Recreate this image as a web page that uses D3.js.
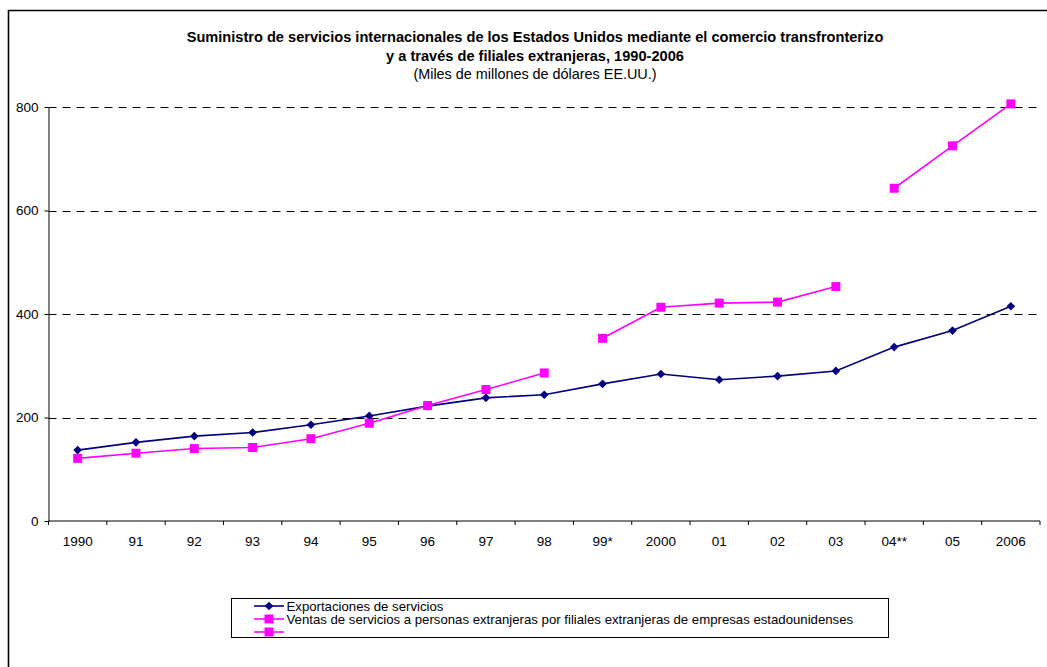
<!DOCTYPE html>
<html>
<head>
<meta charset="utf-8">
<script src="https://cdn.jsdelivr.net/npm/d3@7"></script>
<style>
  body { margin: 0; background: #fff; }
  svg { display: block; font-family: "Liberation Sans", Arial, sans-serif; }
</style>
</head>
<body>
<svg id="chart"></svg>
<script>
// categorías del eje X
const years = ["1990", "91", "92", "93", "94", "95", "96", "97", "98", "99*", "2000", "01", "02", "03", "04**", "05", "2006"];
// Exportaciones de servicios
const exportaciones = [137, 152, 164, 171, 186, 203, 222, 238, 244, 265, 284, 273, 280, 290, 336, 368, 415];
// Ventas de servicios por filiales (con cortes de serie)
const ventas = [121, 131, 140, 142, 159, 189, 223, 254, 286, null, null, null, null, null, null, null, null];
const ventas2 = [null, null, null, null, null, null, null, null, null, 353, 413, 421, 423, 453, null, null, null];
const ventas3 = [null, null, null, null, null, null, null, null, null, null, null, null, null, null, 643, 725, 806];
const yTicks = [0, 200, 400, 600, 800];
const legendLabels = ["Exportaciones de servicios", "Ventas de servicios a personas extranjeras por filiales extranjeras de empresas estadounidenses", ""];

const width = 1047, height = 667;
const margin = {left: 48.5, right: 7, top: 107, bottom: 146};
const svg = d3.select("#chart").attr("width", width).attr("height", height);

// marco exterior
svg.append("path")
  .attr("d", `M8.5,${height}V10.5H${width}`)
  .attr("fill", "none").attr("stroke", "#000").attr("stroke-width", 1.6);

const x = d3.scaleBand().domain(years).range([margin.left, width - margin.right]);
const y = d3.scaleLinear().domain([0, 800]).range([height - margin.bottom, margin.top]);
const cx = d => x(d) + x.bandwidth() / 2;

// título
const title = svg.append("text").attr("text-anchor", "middle").attr("fill", "#000");
title.append("tspan").attr("x", 535).attr("y", 42).attr("font-weight", "bold").attr("font-size", 14.6)
  .text("Suministro de servicios internacionales de los Estados Unidos mediante el comercio transfronterizo");
title.append("tspan").attr("x", 535).attr("y", 60.5).attr("font-weight", "bold").attr("font-size", 14.6)
  .text("y a través de filiales extranjeras, 1990-2006");
title.append("tspan").attr("x", 535).attr("y", 79).attr("font-size", 14.4)
  .text("(Miles de millones de dólares EE.UU.)");

// líneas de cuadrícula
svg.append("g").selectAll("line").data(yTicks.filter(d => d > 0)).join("line")
  .attr("x1", margin.left).attr("x2", width - margin.right)
  .attr("y1", d => Math.round(y(d)) + 0.5).attr("y2", d => Math.round(y(d)) + 0.5)
  .attr("stroke", "#000").attr("stroke-dasharray", "8,6").attr("stroke-width", 1);

// eje Y
const yAxis = svg.append("g").attr("transform", `translate(${margin.left},0)`)
  .call(d3.axisLeft(y).tickValues(yTicks).tickSize(4).tickPadding(6).tickSizeOuter(0));
yAxis.select(".domain").attr("stroke", "#000");
yAxis.selectAll("text").attr("font-size", 13.5).attr("font-family", "Liberation Sans, Arial, sans-serif");

// eje X con marcas entre categorías
const xAxis = svg.append("g").attr("transform", `translate(0,${height - margin.bottom})`);
xAxis.append("line").attr("x1", margin.left).attr("x2", width - margin.right).attr("stroke", "#000");
xAxis.selectAll(".tk").data(years.concat(["end"])).join("line")
  .attr("x1", (d, i) => i < years.length ? x(d) : width - margin.right)
  .attr("x2", (d, i) => i < years.length ? x(d) : width - margin.right)
  .attr("y1", 0).attr("y2", 4).attr("stroke", "#000");
xAxis.selectAll("text").data(years).join("text")
  .attr("x", d => cx(d)).attr("y", 24.5).attr("text-anchor", "middle")
  .attr("font-size", 13.5).attr("fill", "#000").text(d => d);

// series
const line = d3.line().defined(d => d.v != null).x(d => cx(d.k)).y(d => y(d.v));
function series(vals, color, shape) {
  const pts = vals.map((v, i) => ({k: years[i], v}));
  const g = svg.append("g");
  g.append("path").attr("d", line(pts)).attr("fill", "none").attr("stroke", color).attr("stroke-width", 1.6);
  const valid = pts.filter(d => d.v != null);
  if (shape === "diamond") {
    g.selectAll("path.m").data(valid).join("path").attr("class", "m")
      .attr("d", d3.symbol(d3.symbolDiamond2, 48))
      .attr("transform", d => `translate(${cx(d.k)},${y(d.v)})`).attr("fill", color);
  } else {
    g.selectAll("rect").data(valid).join("rect")
      .attr("x", d => cx(d.k) - 4.5).attr("y", d => y(d.v) - 4.5)
      .attr("width", 9).attr("height", 9).attr("fill", color);
  }
}
series(exportaciones, "#000080", "diamond");
series(ventas, "#FF00FF", "square");
series(ventas2, "#FF00FF", "square");
series(ventas3, "#FF00FF", "square");

// leyenda
const leg = svg.append("g");
leg.append("rect").attr("x", 231.5).attr("y", 598.5).attr("width", 657).attr("height", 39)
  .attr("fill", "#fff").attr("stroke", "#000");
const legItems = [
  {label: legendLabels[0], color: "#000080", shape: "diamond"},
  {label: legendLabels[1], color: "#FF00FF", shape: "square"},
  {label: legendLabels[2], color: "#FF00FF", shape: "square"}
];
legItems.forEach((it, i) => {
  const ly = 606 + i * 13;
  leg.append("line").attr("x1", 254).attr("x2", 284).attr("y1", ly).attr("y2", ly)
    .attr("stroke", it.color).attr("stroke-width", 1.6);
  if (it.shape === "diamond") {
    leg.append("path").attr("d", d3.symbol(d3.symbolDiamond2, 48)).attr("transform", `translate(269,${ly})`).attr("fill", it.color);
  } else {
    leg.append("rect").attr("x", 264.5).attr("y", ly - 4.5).attr("width", 9).attr("height", 9).attr("fill", it.color);
  }
  leg.append("text").attr("x", 286.5).attr("y", ly + 4.5).attr("font-size", 13.2).attr("fill", "#000").text(it.label);
});
</script>
</body>
</html>
